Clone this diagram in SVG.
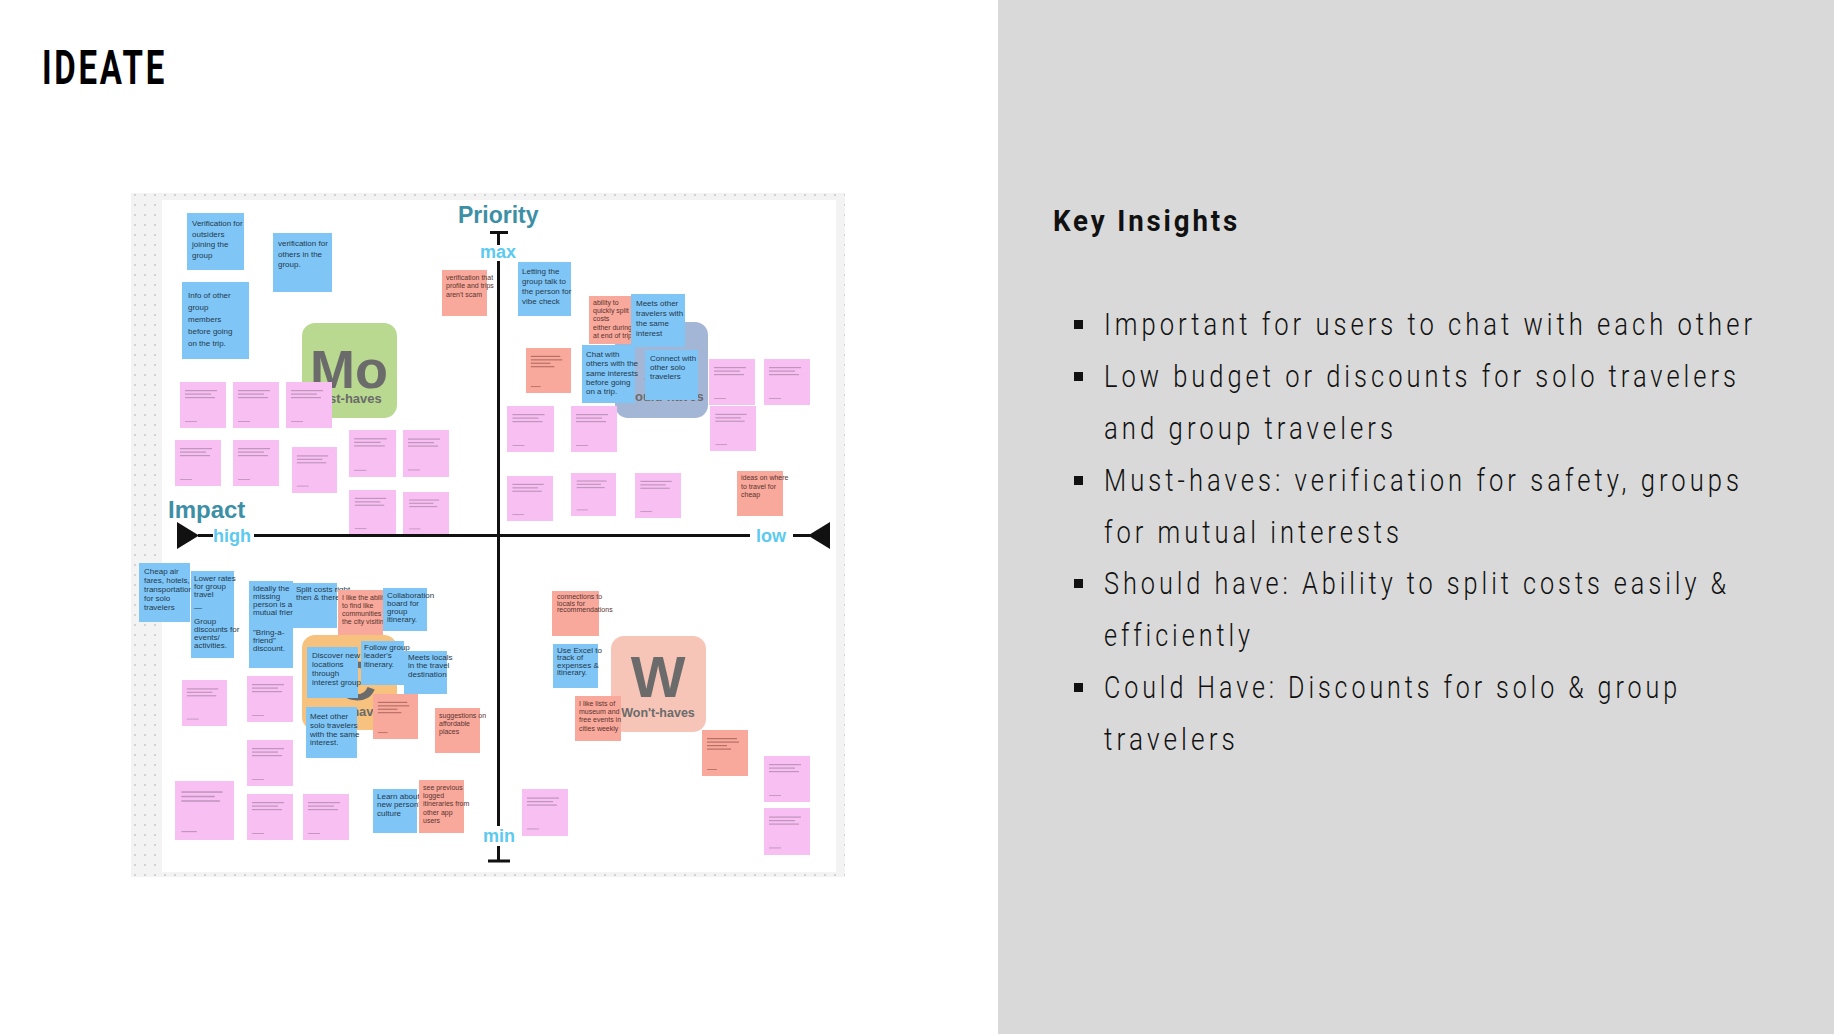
<svg xmlns="http://www.w3.org/2000/svg" xmlns:xlink="http://www.w3.org/1999/xlink" width="1834" height="1034" viewBox="0 0 1834 1034">
<defs>
<style>
.b{fill:#7fc6f7}
.s{fill:#f8a99b}
.p{fill:#f8bff2}
.t{font-family:"Liberation Sans",Arial,sans-serif;font-size:8px;fill:#24394d}
.ts{font-family:"Liberation Sans",Arial,sans-serif;font-size:7px;fill:#5b3330}
.scr{fill:#a883a4;opacity:.7}
.scs{fill:#8a4a42;opacity:.6}
.ax{stroke:#111;stroke-width:3;fill:none}
.axl{font-family:"Liberation Sans",Arial,sans-serif;font-weight:bold;font-size:18px;fill:#5ccaf0}
.ttl{font-family:"Liberation Sans",Arial,sans-serif;font-weight:bold;fill:#3d8fa6}
.bg{font-family:"Liberation Sans",Arial,sans-serif;font-weight:bold;fill:#6b6b6b;text-anchor:middle}
.ki{font-family:Roboto,"Liberation Sans",sans-serif;font-weight:300;font-size:32px;fill:#111;letter-spacing:5px}
</style>
<pattern id="dots" x="0" y="0" width="10" height="10" patternUnits="userSpaceOnUse">
<rect width="10" height="10" fill="#f3f3f3"/>
<circle cx="5" cy="5" r="0.9" fill="#c4c4c4"/>
</pattern>
<symbol id="scr" viewBox="0 0 46 46">
<rect class="scr" x="5" y="8" width="32" height="1.2"/>
<rect class="scr" x="5" y="11.5" width="26" height="1.2"/>
<rect class="scr" x="5" y="15" width="30" height="1.2"/>
<rect class="scr" x="5" y="39" width="12" height="0.9"/>
</symbol>
<symbol id="scs" viewBox="0 0 46 46">
<rect class="scs" x="5" y="8" width="30" height="1.2"/>
<rect class="scs" x="5" y="11.5" width="32" height="1.2"/>
<rect class="scs" x="5" y="15" width="20" height="1.2"/>
<rect class="scs" x="5" y="18.5" width="24" height="1.2"/>
<rect class="scs" x="5" y="39" width="10" height="0.9"/>
</symbol>
</defs>

<rect x="0" y="0" width="1834" height="1034" fill="#ffffff"/>
<rect id="side-panel" x="998" y="0" width="836" height="1034" fill="#d9d9d9"/>

<text id="title" x="42" y="84" font-family="Roboto,'Liberation Sans',sans-serif" font-weight="bold" font-size="49" letter-spacing="4" textLength="125" lengthAdjust="spacingAndGlyphs" fill="#000">IDEATE</text>

<!-- board -->
<g id="board">
<rect x="131" y="193" width="714" height="684" fill="url(#dots)"/>
<rect x="162" y="200" width="674" height="672" fill="#ffffff"/>
</g>

<!-- badges -->
<g id="badge-must">
<rect x="302" y="323" width="95" height="95" rx="13" fill="#b8d98f"/>
<text class="bg" x="349" y="388" font-size="54">Mo</text>
<text class="bg" x="346" y="403" font-size="13">Must-haves</text>
</g>
<g id="badge-should">
<rect x="615" y="322" width="93" height="96" rx="13" fill="#a3b6d6"/>
<text class="bg" x="661" y="388" font-size="54">S</text>
<text class="bg" x="661" y="401" font-size="13">Should-haves</text>
</g>
<g id="badge-could">
<rect x="302" y="635" width="95" height="95" rx="13" fill="#f7c27e"/>
<text class="bg" x="356" y="700" font-size="56">C</text>
<text class="bg" x="349" y="716" font-size="13">Could-haves</text>
</g>
<g id="badge-wont">
<rect x="611" y="636" width="95" height="96" rx="13" fill="#f6c5b8"/>
<text class="bg" x="658" y="697" font-size="58">W</text>
<text class="bg" x="658" y="717" font-size="12.5">Won't-haves</text>
</g>

<!-- pink notes -->
<g id="pink-notes">
<g id="p1"><rect class="p" x="180" y="382" width="46" height="46"/><use href="#scr" x="180" y="382" width="46" height="46"/></g>
<g id="p2"><rect class="p" x="233" y="382" width="46" height="46"/><use href="#scr" x="233" y="382" width="46" height="46"/></g>
<g id="p3"><rect class="p" x="286" y="382" width="46" height="46"/><use href="#scr" x="286" y="382" width="46" height="46"/></g>
<g id="p4"><rect class="p" x="175" y="440" width="46" height="46"/><use href="#scr" x="175" y="440" width="46" height="46"/></g>
<g id="p5"><rect class="p" x="233" y="440" width="46" height="46"/><use href="#scr" x="233" y="440" width="46" height="46"/></g>
<g id="p6"><rect class="p" x="292" y="447" width="45" height="46"/><use href="#scr" x="292" y="447" width="45" height="46"/></g>
<g id="p7"><rect class="p" x="349" y="430" width="47" height="47"/><use href="#scr" x="349" y="430" width="47" height="47"/></g>
<g id="p8"><rect class="p" x="403" y="430" width="46" height="47"/><use href="#scr" x="403" y="430" width="46" height="47"/></g>
<g id="p9"><rect class="p" x="349" y="490" width="47" height="45"/><use href="#scr" x="349" y="490" width="47" height="45"/></g>
<g id="p10"><rect class="p" x="403" y="492" width="46" height="43"/><use href="#scr" x="403" y="492" width="46" height="43"/></g>
<g id="p11"><rect class="p" x="709" y="359" width="46" height="46"/><use href="#scr" x="709" y="359" width="46" height="46"/></g>
<g id="p12"><rect class="p" x="764" y="359" width="46" height="46"/><use href="#scr" x="764" y="359" width="46" height="46"/></g>
<g id="p13"><rect class="p" x="710" y="406" width="46" height="45"/><use href="#scr" x="710" y="406" width="46" height="45"/></g>
<g id="p14"><rect class="p" x="507" y="406" width="47" height="46"/><use href="#scr" x="507" y="406" width="47" height="46"/></g>
<g id="p15"><rect class="p" x="571" y="406" width="46" height="46"/><use href="#scr" x="571" y="406" width="46" height="46"/></g>
<g id="p16"><rect class="p" x="507" y="476" width="46" height="45"/><use href="#scr" x="507" y="476" width="46" height="45"/></g>
<g id="p17"><rect class="p" x="571" y="473" width="45" height="43"/><use href="#scr" x="571" y="473" width="45" height="43"/></g>
<g id="p18"><rect class="p" x="635" y="473" width="46" height="45"/><use href="#scr" x="635" y="473" width="46" height="45"/></g>
<g id="p19"><rect class="p" x="182" y="680" width="45" height="46"/><use href="#scr" x="182" y="680" width="45" height="46"/></g>
<g id="p20"><rect class="p" x="247" y="676" width="46" height="46"/><use href="#scr" x="247" y="676" width="46" height="46"/></g>
<g id="p21"><rect class="p" x="247" y="740" width="46" height="46"/><use href="#scr" x="247" y="740" width="46" height="46"/></g>
<g id="p22"><rect class="p" x="175" y="781" width="59" height="59"/><use href="#scr" x="175" y="781" width="59" height="59"/></g>
<g id="p23"><rect class="p" x="247" y="794" width="46" height="46"/><use href="#scr" x="247" y="794" width="46" height="46"/></g>
<g id="p24"><rect class="p" x="303" y="794" width="46" height="46"/><use href="#scr" x="303" y="794" width="46" height="46"/></g>
<g id="p25"><rect class="p" x="764" y="756" width="46" height="46"/><use href="#scr" x="764" y="756" width="46" height="46"/></g>
<g id="p26"><rect class="p" x="764" y="808" width="46" height="47"/><use href="#scr" x="764" y="808" width="46" height="47"/></g>
<g id="p27"><rect class="p" x="522" y="789" width="46" height="47"/><use href="#scr" x="522" y="789" width="46" height="47"/></g>
</g>

<!-- salmon and blue notes -->
<g id="notes">
<g id="n-verif-outsiders"><rect class="b" x="187" y="213" width="57" height="57"/>
<text class="t" font-size="7.6" x="192" y="226"><tspan x="192">Verification for</tspan><tspan x="192" dy="10.5">outsiders</tspan><tspan x="192" dy="10.5">joining the</tspan><tspan x="192" dy="10.5">group</tspan></text></g>
<g id="n-verif-others"><rect class="b" x="273" y="233" width="59" height="59"/>
<text class="t" font-size="7.8" x="278" y="246"><tspan x="278">verification for</tspan><tspan x="278" dy="10.7">others in the</tspan><tspan x="278" dy="10.7">group.</tspan></text></g>
<g id="n-info"><rect class="b" x="182" y="282" width="67" height="77"/>
<text class="t" font-size="10" x="188" y="298"><tspan x="188">Info of other</tspan><tspan x="188" dy="12">group</tspan><tspan x="188" dy="12">members</tspan><tspan x="188" dy="12">before going</tspan><tspan x="188" dy="12">on the trip.</tspan></text></g>
<g id="n-verif-scam"><rect class="s" x="442" y="270" width="45" height="46"/>
<text class="ts" font-size="5.4" x="446" y="280"><tspan x="446">verification that</tspan><tspan x="446" dy="8.3">profile and trips</tspan><tspan x="446" dy="8.3">aren't scam</tspan></text></g>
<g id="n-letting"><rect class="b" x="518" y="262" width="53" height="54"/>
<text class="t" font-size="7.2" x="522" y="274"><tspan x="522">Letting the</tspan><tspan x="522" dy="10">group talk to</tspan><tspan x="522" dy="10">the person for</tspan><tspan x="522" dy="10">vibe check</tspan></text></g>
<g id="n-split"><rect class="s" x="589" y="296" width="43" height="48"/>
<text class="ts" font-size="5.4" x="593" y="305"><tspan x="593">ability to</tspan><tspan x="593" dy="8.2">quickly split</tspan><tspan x="593" dy="8.2">costs</tspan><tspan x="593" dy="8.2">either during or</tspan><tspan x="593" dy="8.2">at end of trip</tspan></text></g>
<g id="n-meets"><rect class="b" x="631" y="294" width="54" height="53"/>
<text class="t" font-size="7.6" x="636" y="306"><tspan x="636">Meets other</tspan><tspan x="636" dy="10">travelers with</tspan><tspan x="636" dy="10">the same</tspan><tspan x="636" dy="10">interest</tspan></text></g>
<g id="n-s10"><rect class="s" x="526" y="348" width="45" height="45"/><use href="#scs" x="526" y="348" width="45" height="45"/></g>
<g id="n-chat"><rect class="b" x="582" y="345" width="53" height="58"/>
<text class="t" font-size="7" x="586" y="357"><tspan x="586">Chat with</tspan><tspan x="586" dy="9.3">others with the</tspan><tspan x="586" dy="9.3">same interests</tspan><tspan x="586" dy="9.3">before going</tspan><tspan x="586" dy="9.3">on a trip.</tspan></text></g>
<g id="n-connect"><rect class="b" x="645" y="350" width="53" height="50"/>
<text class="t" font-size="7.6" x="650" y="361"><tspan x="650">Connect with</tspan><tspan x="650" dy="9">other solo</tspan><tspan x="650" dy="9">travelers</tspan></text></g>
<g id="n-cheap"><rect class="s" x="737" y="471" width="46" height="45"/>
<text class="ts" font-size="6.2" x="741" y="480"><tspan x="741">ideas on where</tspan><tspan x="741" dy="8.5">to travel for</tspan><tspan x="741" dy="8.5">cheap</tspan></text></g>

<g id="n-cheap-air"><rect class="b" x="139" y="563" width="51" height="59"/>
<text class="t" font-size="7.1" x="144" y="574"><tspan x="144">Cheap air</tspan><tspan x="144" dy="9">fares, hotels,</tspan><tspan x="144" dy="9">transportation</tspan><tspan x="144" dy="9">for solo</tspan><tspan x="144" dy="9">travelers</tspan></text></g>
<g id="n-lower"><rect class="b" x="191" y="571" width="43" height="87"/>
<text class="t" font-size="6.2" x="194" y="581"><tspan x="194">Lower rates</tspan><tspan x="194" dy="8">for group</tspan><tspan x="194" dy="8">travel</tspan><tspan x="194" dy="13">—</tspan><tspan x="194" dy="14">Group</tspan><tspan x="194" dy="8">discounts for</tspan><tspan x="194" dy="8">events/</tspan><tspan x="194" dy="8">activities.</tspan></text></g>
<g id="n-ideally"><rect class="b" x="249" y="581" width="44" height="45"/>
<text class="t" font-size="6.3" x="253" y="591"><tspan x="253">Ideally the</tspan><tspan x="253" dy="8">missing</tspan><tspan x="253" dy="8">person is a</tspan><tspan x="253" dy="8">mutual friend</tspan></text></g>
<g id="n-bring"><rect class="b" x="249" y="626" width="44" height="42"/>
<text class="t" font-size="6.5" x="253" y="635"><tspan x="253">"Bring-a-</tspan><tspan x="253" dy="8">friend"</tspan><tspan x="253" dy="8">discount.</tspan></text></g>
<g id="n-splitright"><rect class="b" x="293" y="583" width="44" height="45"/>
<text class="t" font-size="5.5" x="296" y="592"><tspan x="296">Split costs right</tspan><tspan x="296" dy="8">then &amp; there.</tspan></text></g>
<g id="n-ability"><rect class="s" x="338" y="590" width="45" height="45"/>
<text class="ts" font-size="5.5" x="342" y="600"><tspan x="342">I like the ability</tspan><tspan x="342" dy="8">to find like</tspan><tspan x="342" dy="8">communities in</tspan><tspan x="342" dy="8">the city visiting</tspan></text></g>
<g id="n-collab"><rect class="b" x="383" y="588" width="44" height="43"/>
<text class="t" font-size="6.3" x="387" y="598"><tspan x="387">Collaboration</tspan><tspan x="387" dy="8">board for</tspan><tspan x="387" dy="8">group</tspan><tspan x="387" dy="8">itinerary.</tspan></text></g>
<g id="n-discover"><rect class="b" x="307" y="647" width="51" height="51"/>
<text class="t" font-size="6.4" x="312" y="658"><tspan x="312">Discover new</tspan><tspan x="312" dy="9">locations</tspan><tspan x="312" dy="9">through</tspan><tspan x="312" dy="9">interest groups</tspan></text></g>
<g id="n-follow"><rect class="b" x="361" y="641" width="43" height="44"/>
<text class="t" font-size="6.4" x="364" y="650"><tspan x="364">Follow group</tspan><tspan x="364" dy="8.3">leader's</tspan><tspan x="364" dy="8.3">itinerary.</tspan></text></g>
<g id="n-locals"><rect class="b" x="404" y="651" width="43" height="43"/>
<text class="t" font-size="6.6" x="408" y="660"><tspan x="408">Meets locals</tspan><tspan x="408" dy="8.3">in the travel</tspan><tspan x="408" dy="8.3">destination</tspan></text></g>
<g id="n-s33"><rect class="s" x="373" y="694" width="45" height="45"/><use href="#scs" x="373" y="694" width="45" height="45"/></g>
<g id="n-suggest"><rect class="s" x="435" y="708" width="45" height="45"/>
<text class="ts" font-size="5.9" x="439" y="718"><tspan x="439">suggestions on</tspan><tspan x="439" dy="8">affordable</tspan><tspan x="439" dy="8">places</tspan></text></g>
<g id="n-meetsolo"><rect class="b" x="306" y="707" width="51" height="51"/>
<text class="t" font-size="7.2" x="310" y="719"><tspan x="310">Meet other</tspan><tspan x="310" dy="8.8">solo travelers</tspan><tspan x="310" dy="8.8">with the same</tspan><tspan x="310" dy="8.8">interest.</tspan></text></g>
<g id="n-learn"><rect class="b" x="373" y="789" width="44" height="44"/>
<text class="t" font-size="6.3" x="377" y="799"><tspan x="377">Learn about a</tspan><tspan x="377" dy="8.3">new person's</tspan><tspan x="377" dy="8.3">culture</tspan></text></g>
<g id="n-see"><rect class="s" x="419" y="780" width="45" height="53"/>
<text class="ts" font-size="6" x="423" y="790"><tspan x="423">see previous</tspan><tspan x="423" dy="8.2">logged</tspan><tspan x="423" dy="8.2">itineraries from</tspan><tspan x="423" dy="8.2">other app</tspan><tspan x="423" dy="8.2">users</tspan></text></g>

<g id="n-connections"><rect class="s" x="552" y="591" width="47" height="45"/>
<text class="ts" font-size="4.9" x="557" y="599"><tspan x="557">connections to</tspan><tspan x="557" dy="6.6">locals for</tspan><tspan x="557" dy="6.6">recommendations</tspan></text></g>
<g id="n-excel"><rect class="b" x="553" y="644" width="45" height="44"/>
<text class="t" font-size="6.4" x="557" y="653"><tspan x="557">Use Excel to</tspan><tspan x="557" dy="7.4">track of</tspan><tspan x="557" dy="7.4">expenses &amp;</tspan><tspan x="557" dy="7.4">itinerary.</tspan></text></g>
<g id="n-museum"><rect class="s" x="575" y="696" width="46" height="45"/>
<text class="ts" font-size="6.3" x="579" y="706"><tspan x="579">I like lists of</tspan><tspan x="579" dy="8.2">museum and</tspan><tspan x="579" dy="8.2">free events in</tspan><tspan x="579" dy="8.2">cities weekly</tspan></text></g>
<g id="n-s47"><rect class="s" x="702" y="730" width="46" height="46"/><use href="#scs" x="702" y="730" width="46" height="46"/></g>
</g>

<!-- axes (connectors) -->
<g id="axes">
<path class="ax" d="M490 232.5H508 M498.5 232.5V245 M498.5 261V826 M498.5 846V861 M488 861H510"/>
<path class="ax" d="M198 535.5H213 M254 535.5H750 M793 535.5H810"/>
<polygon points="177,522 177,549 199,535.5" fill="#111"/>
<polygon points="830,522 830,549 808,535.5" fill="#111"/>
<text class="axl" x="480" y="258">max</text>
<text class="axl" x="483" y="842">min</text>
<text class="axl" x="213" y="542">high</text>
<text class="axl" x="756" y="542">low</text>
<text class="ttl" x="458" y="223" font-size="23">Priority</text>
<text class="ttl" x="168" y="518" font-size="24">Impact</text>
</g>

<!-- Key insights -->
<g id="key-insights">
<text x="1053" y="231" font-family="Roboto,'Liberation Sans',sans-serif" font-weight="bold" font-size="29" letter-spacing="3" textLength="187" lengthAdjust="spacingAndGlyphs" fill="#111">Key Insights</text>
<rect x="1074" y="320" width="9" height="9" fill="#111"/>
<rect x="1074" y="372" width="9" height="9" fill="#111"/>
<rect x="1074" y="476" width="9" height="9" fill="#111"/>
<rect x="1074" y="579" width="9" height="9" fill="#111"/>
<rect x="1074" y="683" width="9" height="9" fill="#111"/>
<text class="ki" x="1104" y="335" textLength="652" lengthAdjust="spacingAndGlyphs">Important for users to chat with each other</text>
<text class="ki" x="1104" y="387" textLength="636" lengthAdjust="spacingAndGlyphs">Low budget or discounts for solo travelers</text>
<text class="ki" x="1104" y="439" textLength="293" lengthAdjust="spacingAndGlyphs">and group travelers</text>
<text class="ki" x="1104" y="491" textLength="639" lengthAdjust="spacingAndGlyphs">Must-haves: verification for safety, groups</text>
<text class="ki" x="1104" y="543" textLength="299" lengthAdjust="spacingAndGlyphs">for mutual interests</text>
<text class="ki" x="1104" y="594" textLength="626" lengthAdjust="spacingAndGlyphs">Should have: Ability to split costs easily &amp;</text>
<text class="ki" x="1104" y="646" textLength="150" lengthAdjust="spacingAndGlyphs">efficiently</text>
<text class="ki" x="1104" y="698" textLength="577" lengthAdjust="spacingAndGlyphs">Could Have: Discounts for solo &amp; group</text>
<text class="ki" x="1104" y="750" textLength="135" lengthAdjust="spacingAndGlyphs">travelers</text>
</g>
</svg>
